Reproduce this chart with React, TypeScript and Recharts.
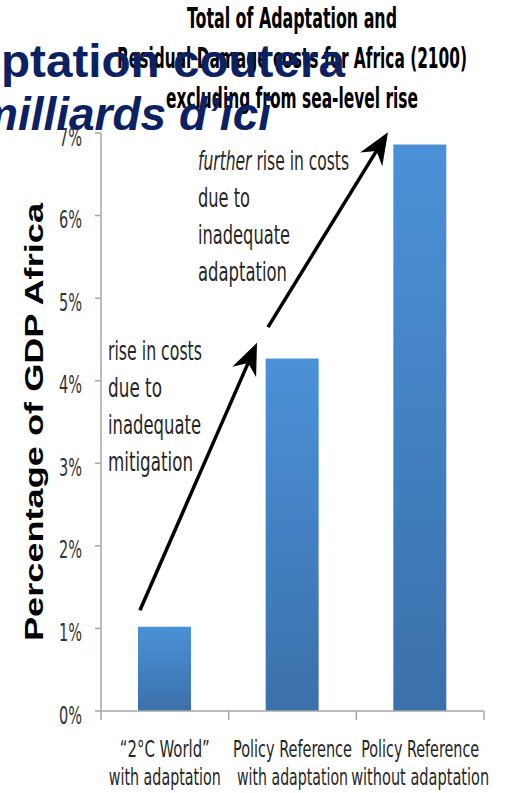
import React from 'react';
import { BarChart, Bar, XAxis, YAxis, ReferenceLine } from 'recharts';

const CATEGORIES = ['2°C World with adaptation', 'Policy Reference with adaptation', 'Policy Reference without adaptation'];
const CATEGORY_LINE_1 = ['“2°C World”', 'Policy Reference', 'Policy Reference'];
const CATEGORY_LINE_2 = ['with adaptation', 'with adaptation', 'without adaptation'];
const COST_PCT = [1.02, 4.27, 6.86];
const Y_TICKS = [0, 1, 2, 3, 4, 5, 6, 7];
// category slots on a 0..3 axis: integers are the tick marks between groups, halves are the labels
const X_TICKS = [0, 0.5, 1, 1.5, 2, 2.5, 3];

const TITLE = ['Total of Adaptation and', 'Residual Damage costs for Africa (2100)', 'excluding from sea-level rise'];
const NOTE_MITIGATION = ['rise in costs', 'due to', 'inadequate', 'mitigation'];
const NOTE_ADAPTATION = ['rise in costs', 'due to', 'inadequate', 'adaptation'];
const SLIDE_TEXT = ['ptation coutera', 'milliards d\u2019ici'];
const Y_LABEL = 'Percentage of GDP Africa';

// arrow ends: x in category units, y in % of GDP
const ARROW_MITIGATION = [{ x: 0.305, y: 1.22 }, { x: 1.222, y: 4.46 }];
const ARROW_ADAPTATION = [{ x: 1.308, y: 4.65 }, { x: 2.248, y: 7.01 }];

const NARROW = "'Liberation Sans Narrow', 'Arial Narrow', 'DejaVu Sans Condensed', sans-serif";
const ARIAL = "'Liberation Sans', Arial, sans-serif";
const AXIS_GREY = '#a6a6a6';

// rendered widths of the condensed labels
const LABEL_W1 = [90, 119, 118];
const LABEL_W2 = [112, 111, 138];

const data = CATEGORIES.map((name, i) => ({ name, slot: i + 0.5, value: COST_PCT[i] }));

const CategoryTick = ({ x, y, payload }: any) => {
  const v = payload.value;
  if (Number.isInteger(v)) {
    return <line x1={x} y1={y} x2={x} y2={y + 9} stroke={AXIS_GREY} strokeWidth={1.5} />;
  }
  const i = Math.floor(v);
  return (
    <g fontFamily={NARROW} fontSize={23} fill="#262626" textAnchor="middle">
      <text x={x} y={y + 46} textLength={LABEL_W1[i]} lengthAdjust="spacingAndGlyphs">{CATEGORY_LINE_1[i]}</text>
      <text x={x} y={y + 74} textLength={LABEL_W2[i]} lengthAdjust="spacingAndGlyphs">{CATEGORY_LINE_2[i]}</text>
    </g>
  );
};

const PctTick = ({ x, y, payload }: any) => (
  <text x={x} y={y + 12.5} textAnchor="end" textLength={23} lengthAdjust="spacingAndGlyphs"
    fontFamily={NARROW} fontSize={25} fill="#333">
    {payload.value}%
  </text>
);

const YTitle = ({ viewBox }: any) => {
  const cx = viewBox.x + 43;
  const cy = viewBox.y + viewBox.height / 2;
  return (
    <text x={cx} y={cy} transform={`rotate(-90, ${cx}, ${cy})`} textAnchor="middle"
      textLength={438} lengthAdjust="spacingAndGlyphs"
      fontFamily={ARIAL} fontWeight="bold" fontSize={25} fill="#000">
      {Y_LABEL}
    </text>
  );
};

const ArrowShape = ({ x1, y1, x2, y2 }: any) => {
  const len = Math.hypot(x2 - x1, y2 - y1);
  const ux = (x2 - x1) / len;
  const uy = (y2 - y1) / len;
  const headLen = 32;
  const half = 13;
  const notch = 10;
  const bx = x2 - ux * headLen;
  const by = y2 - uy * headLen;
  const nx = x2 - ux * (headLen - notch);
  const ny = y2 - uy * (headLen - notch);
  const pts = [
    [x2, y2],
    [bx - uy * half, by + ux * half],
    [nx, ny],
    [bx + uy * half, by - ux * half],
  ].map((p) => p.join(',')).join(' ');
  return (
    <g>
      <line x1={x1} y1={y1} x2={nx} y2={ny} stroke="#000" strokeWidth={3.5} />
      <polygon points={pts} fill="#000" />
    </g>
  );
};

const Note = ({ lines, x, top, widths, italicLead }: any) => (
  <g fontFamily={NARROW} fontSize={26} fill="#262626">
    {lines.map((line: string, i: number) => (
      <text key={i} x={x} y={top + i * 37} textLength={widths[i]} lengthAdjust="spacingAndGlyphs">
        {i === 0 && italicLead ? <tspan fontStyle="italic">{italicLead} </tspan> : null}
        {line}
      </text>
    ))}
  </g>
);

export default function App() {
  return (
    <div style={{ position: 'fixed', left: 0, top: 0, width: 512, height: 793, overflow: 'hidden', background: '#fff' }}>
      <BarChart width={512} height={793} data={data} margin={{ top: 133, right: 28, bottom: 0, left: 0 }}>
        <defs>
          <linearGradient id="barFill" x1="0" y1="0" x2="0" y2="1">
            <stop offset="0%" stopColor="#4b91d8" />
            <stop offset="100%" stopColor="#3b70aa" />
          </linearGradient>
        </defs>
        <XAxis dataKey="slot" type="number" domain={[0, 3]} ticks={X_TICKS} interval={0} allowDataOverflow
          height={82} tickSize={0} tickMargin={0} tickLine={false}
          axisLine={{ stroke: AXIS_GREY, strokeWidth: 1.5 }} tick={<CategoryTick />} />
        <YAxis width={101} domain={[0, 7]} ticks={Y_TICKS} interval={0} tickSize={6} tickMargin={13}
          axisLine={{ stroke: AXIS_GREY, strokeWidth: 1.5 }} tickLine={{ stroke: AXIS_GREY, strokeWidth: 1.5 }}
          tick={<PctTick />} label={{ content: (p: any) => <YTitle viewBox={p.viewBox} /> }} />
        <Bar dataKey="value" barSize={53} fill="url(#barFill)" isAnimationActive={false} />
        <ReferenceLine segment={ARROW_MITIGATION} ifOverflow="visible" shape={ArrowShape} />
        <ReferenceLine segment={ARROW_ADAPTATION} ifOverflow="visible" shape={ArrowShape} />
      </BarChart>
      <svg width={512} height={793} style={{ position: 'absolute', left: 0, top: 0, pointerEvents: 'none' }}>
        <g fontFamily={NARROW} fontWeight="bold" fontSize={28} fill="#000" textAnchor="middle">
          {TITLE.map((t, i) => (
            <text key={i} x={292} y={28 + i * 40} textLength={[210, 350, 252][i]} lengthAdjust="spacingAndGlyphs">{t}</text>
          ))}
        </g>
        <Note lines={NOTE_ADAPTATION} x={198} top={170} widths={[151, 52, 92, 89]} italicLead="further" />
        <Note lines={NOTE_MITIGATION} x={108} top={360} widths={[94, 54, 93, 85]} />
        <g fontFamily={ARIAL} fontWeight="bold" fontSize={46} fill="#0b2161">
          <text x={1} y={77} textLength={344} lengthAdjust="spacingAndGlyphs">{SLIDE_TEXT[0]}</text>
          <text x={-23} y={130} fontStyle="italic">{SLIDE_TEXT[1]}</text>
        </g>
      </svg>
    </div>
  );
}
